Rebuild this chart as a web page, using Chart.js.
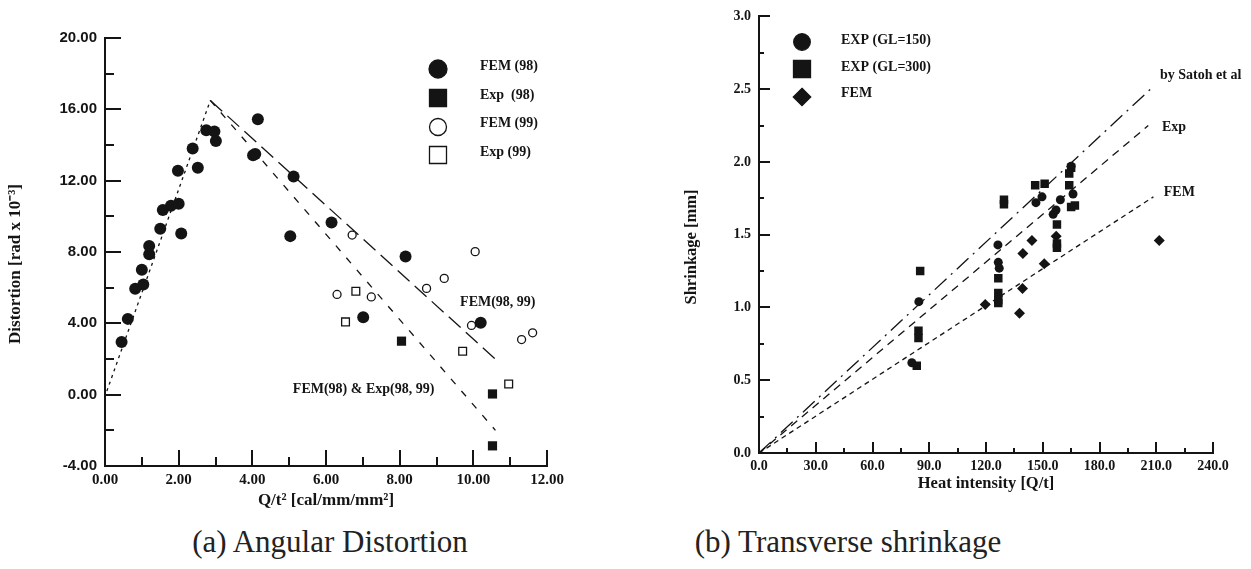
<!DOCTYPE html>
<html>
<head>
<meta charset="utf-8">
<script src="https://cdn.jsdelivr.net/npm/chart.js@4.4.1/dist/chart.umd.min.js"></script>
<style>
  html, body { margin: 0; padding: 0; background: #fff; }
  #wrap { position: relative; width: 1251px; height: 569px; overflow: hidden; }
  #c1 { position: absolute; left: 0; top: 0; }
  #c2 { position: absolute; left: 620px; top: 0; }
  .cap {
    position: absolute; top: 524px;
    font-family: "Liberation Serif", serif; font-size: 31px; color: #222;
    white-space: nowrap; transform: translateX(-50%);
  }
</style>
</head>
<body>
<div id="wrap">
  <canvas id="c1" width="620" height="520" style="width:620px;height:520px"></canvas>
  <canvas id="c2" width="631" height="520" style="width:631px;height:520px"></canvas>
  <div class="cap" style="left:330px">(a) Angular Distortion</div>
  <div class="cap" style="left:848px">(b) Transverse shrinkage</div>
</div>
<script>
// (a) angular distortion, [Q/t^2, distortion]
const fem98 = [
  [0.45, 2.95], [0.62, 4.25], [0.82, 5.94], [1.0, 7.0], [1.04, 6.18], [1.2, 7.87],
  [1.2, 8.33], [1.5, 9.3], [1.57, 10.35], [1.79, 10.6], [2.0, 10.7], [2.07, 9.04],
  [1.98, 12.55], [2.52, 12.73], [2.38, 13.8], [2.75, 14.83], [2.97, 14.76], [3.01, 14.23],
  [4.02, 13.42], [4.08, 13.5], [4.15, 15.45], [5.12, 12.23], [5.03, 8.89], [6.15, 9.65],
  [8.16, 7.75], [7.01, 4.34], [10.2, 4.03]
];
const exp98 = [[8.05, 3.0], [10.52, 0.04], [10.52, -2.87]];
const fem99 = [
  [6.71, 8.95], [6.30, 5.62], [7.23, 5.48], [8.73, 5.96], [9.21, 6.52],
  [10.05, 8.02], [9.95, 3.88], [11.31, 3.09], [11.61, 3.47]
];
const exp99 = [[6.53, 4.08], [6.81, 5.80], [9.71, 2.43], [10.96, 0.6]];
const riseLine = [[0.05, 0.2], [2.86, 16.5]];
const femFitA = [[2.86, 16.5], [10.7, 1.8]];
const expFitA = [[2.86, 16.5], [10.6, -2.0]];

// (b) transverse shrinkage, [Q/t, shrinkage]
const expGL150 = [
  [80.8, 0.62], [84.5, 1.04], [126.3, 1.43], [126.5, 1.31], [127, 1.27], [146.4, 1.72],
  [149.6, 1.76], [155.5, 1.64], [157, 1.67], [159.3, 1.74], [166, 1.78], [165, 1.97]
];
const expGL300 = [
  [83.4, 0.60], [84.3, 0.84], [84.3, 0.79], [85.2, 1.25], [126.5, 1.20], [126.5, 1.10],
  [126.5, 1.05], [126.5, 1.03], [129.5, 1.71], [129.5, 1.74], [146, 1.84], [151, 1.85],
  [157.5, 1.57], [157.5, 1.44], [157.5, 1.41], [164, 1.84], [164, 1.92], [165, 1.96],
  [165, 1.69], [167, 1.70]
];
const femB = [
  [119.6, 1.02], [137.7, 0.96], [139.3, 1.13], [139.5, 1.37], [144.3, 1.46],
  [150.8, 1.30], [157.1, 1.49], [211.6, 1.46]
];
const satohLine = [[0, 0], [208.6, 2.52]];
const expLineB = [[0, 0], [205.8, 2.25]];
const femLineB = [[0, 0], [208.5, 1.76]];

// axes
const aX = { min: 0, max: 12, step: 2, minor: 1 };
const aY = { min: -4, max: 20, step: 4, minor: 2 };
const bX = { min: 0, max: 240, step: 30, minor: 15 };
const bY = { min: 0, max: 3, step: 0.5, minor: 0.25 };

const INK = '#141414';
const SERIF = '"Liberation Serif", "Times New Roman", serif';
const pts = arr => arr.map(([x, y]) => ({ x, y }));

function range(lo, hi, step) {
  const out = [];
  for (let v = lo; v <= hi + 1e-9; v += step) out.push(+v.toFixed(6));
  return out;
}

function marker(ctx, style, filled, x, y, r) {
  ctx.beginPath();
  if (style === 'circle') ctx.arc(x, y, r, 0, Math.PI * 2);
  else if (style === 'rect') ctx.rect(x - r, y - r, 2 * r, 2 * r);
  else { ctx.moveTo(x, y - r); ctx.lineTo(x + r, y); ctx.lineTo(x, y + r); ctx.lineTo(x - r, y); ctx.closePath(); }
  ctx.fillStyle = filled ? INK : '#fff';
  ctx.fill();
  ctx.lineWidth = 1.3;
  ctx.strokeStyle = INK;
  ctx.stroke();
}

// inner tick marks, axis titles, legend and line labels
function deco(cfg) {
  return {
    id: 'deco',
    afterDraw(chart) {
      const ctx = chart.ctx;
      const a = chart.chartArea;
      const xs = chart.scales.x, ys = chart.scales.y;
      ctx.save();
      ctx.fillStyle = INK;
      range(cfg.y.min, cfg.y.max, cfg.y.minor).forEach(v => {
        if (v === cfg.y.min) return;
        const major = Math.abs(v / cfg.y.step - Math.round(v / cfg.y.step)) < 1e-6;
        const p = Math.round(ys.getPixelForValue(v));
        ctx.fillRect(a.left, p - 1, major ? cfg.majorLen : cfg.minorLen, 2);
      });
      range(cfg.x.min, cfg.x.max, cfg.x.minor).forEach(v => {
        if (v === cfg.x.min) return;
        const major = Math.abs(v / cfg.x.step - Math.round(v / cfg.x.step)) < 1e-6;
        const p = Math.round(xs.getPixelForValue(v));
        const len = major ? cfg.majorLen : cfg.minorLen;
        ctx.fillRect(p - 1, a.bottom - len, 2, len);
      });

      ctx.fillStyle = INK;
      ctx.textAlign = 'center';
      ctx.textBaseline = 'middle';
      ctx.font = 'bold ' + cfg.titleSize + 'px ' + SERIF;
      ctx.fillText(cfg.xTitle, (a.left + a.right) / 2, cfg.xTitleY);
      ctx.save();
      ctx.translate(cfg.yTitlePos[0], cfg.yTitlePos[1]);
      ctx.rotate(-Math.PI / 2);
      ctx.fillText(cfg.yTitle, 0, 0);
      ctx.restore();

      cfg.legend.forEach(l => {
        marker(ctx, l.style, l.filled, cfg.legendX, l.y, l.r);
        ctx.fillStyle = INK;
        ctx.textAlign = 'left';
        ctx.font = 'bold 14px ' + SERIF;
        ctx.fillText(l.text, cfg.legendTextX, l.ty);
      });

      ctx.textAlign = 'left';
      ctx.font = 'bold 14px ' + SERIF;
      cfg.notes.forEach(n => {
        ctx.fillText(n.text, xs.getPixelForValue(n.x), ys.getPixelForValue(n.y));
      });
      ctx.restore();
    }
  };
}

function axis(spec, font, fmt, fixed, isX) {
  return {
    type: 'linear',
    min: spec.min,
    max: spec.max,
    ticks: {
      stepSize: spec.step,
      autoSkip: false,
      maxRotation: 0,
      color: INK,
      font: font,
      padding: isX ? 5 : 8,
      callback: v => v.toFixed(fmt)
    },
    grid: { display: false, drawTicks: false },
    border: { display: true, color: INK, width: 2 },
    afterFit: s => { if (isX) s.height = fixed; else s.width = fixed; }
  };
}

function lineSet(data, dash) {
  return {
    data: pts(data), showLine: true, pointRadius: 0, borderColor: INK,
    borderWidth: 1.3, borderDash: dash, fill: false
  };
}

new Chart(document.getElementById('c1'), {
  type: 'scatter',
  data: {
    datasets: [
      { label: 'FEM (98)', data: pts(fem98), pointStyle: 'circle', pointRadius: 6, backgroundColor: INK, borderColor: INK, borderWidth: 0 },
      { label: 'Exp (98)', data: pts(exp98), pointStyle: 'rect', pointRadius: 6.5, backgroundColor: INK, borderColor: INK, borderWidth: 0 },
      { label: 'FEM (99)', data: pts(fem99), pointStyle: 'circle', pointRadius: 4, backgroundColor: '#fff', borderColor: INK, borderWidth: 1.3 },
      { label: 'Exp (99)', data: pts(exp99), pointStyle: 'rect', pointRadius: 5.5, backgroundColor: '#fff', borderColor: INK, borderWidth: 1.3 },
      lineSet(riseLine, [3, 4]),
      lineSet(femFitA, [16, 7]),
      lineSet(expFitA, [7, 9])
    ]
  },
  options: {
    responsive: false,
    devicePixelRatio: 1,
    animation: false,
    layout: { padding: { left: 0, top: 38, right: 73, bottom: 0 } },
    plugins: { legend: { display: false }, tooltip: { enabled: false } },
    scales: {
      x: axis(aX, { family: SERIF, size: 15, weight: 'bold' }, 2, 54, true),
      y: axis(aY, { family: '"Liberation Sans", Arial, sans-serif', size: 15, weight: 'bold' }, 2, 105, false)
    }
  },
  plugins: [deco({
    x: aX, y: aY, majorLen: 16, minorLen: 9, titleSize: 17,
    xTitle: 'Q/t² [cal/mm/mm²]', xTitleY: 501,
    yTitle: 'Distortion [rad x 10⁻³]', yTitlePos: [16, 264],
    legendX: 438, legendTextX: 480,
    legend: [
      { style: 'circle', filled: true, r: 9, y: 69, text: 'FEM (98)', ty: 66 },
      { style: 'rect', filled: true, r: 8.5, y: 98, text: 'Exp  (98)', ty: 95 },
      { style: 'circle', filled: false, r: 8.5, y: 127, text: 'FEM (99)', ty: 123 },
      { style: 'rect', filled: false, r: 8.5, y: 155, text: 'Exp (99)', ty: 152 }
    ],
    notes: [
      { text: 'FEM(98, 99)', x: 9.64, y: 5.16 },
      { text: 'FEM(98) & Exp(98, 99)', x: 5.1, y: 0.28 }
    ]
  })]
});

new Chart(document.getElementById('c2'), {
  type: 'scatter',
  data: {
    datasets: [
      { label: 'EXP (GL=150)', data: pts(expGL150), pointStyle: 'circle', pointRadius: 4.5, backgroundColor: INK, borderColor: INK, borderWidth: 0 },
      { label: 'EXP (GL=300)', data: pts(expGL300), pointStyle: 'rect', pointRadius: 6, backgroundColor: INK, borderColor: INK, borderWidth: 0 },
      { label: 'FEM', data: pts(femB), pointStyle: 'rectRot', pointRadius: 5.5, backgroundColor: INK, borderColor: INK, borderWidth: 0 },
      lineSet(satohLine, [16, 6, 2, 6]),
      lineSet(expLineB, [8, 6]),
      lineSet(femLineB, [5, 4])
    ]
  },
  options: {
    responsive: false,
    devicePixelRatio: 1,
    animation: false,
    layout: { padding: { left: 0, top: 15, right: 38, bottom: 0 } },
    plugins: { legend: { display: false }, tooltip: { enabled: false } },
    scales: {
      x: axis(bX, { family: SERIF, size: 14, weight: 'bold' }, 1, 67, true),
      y: axis(bY, { family: SERIF, size: 14, weight: 'bold' }, 1, 139, false)
    }
  },
  plugins: [deco({
    x: bX, y: bY, majorLen: 11, minorLen: 5, titleSize: 16.5,
    xTitle: 'Heat intensity [Q/t]', xTitleY: 484,
    yTitle: 'Shrinkage [mm]', yTitlePos: [72, 247],
    legendX: 182, legendTextX: 221,
    legend: [
      { style: 'circle', filled: true, r: 8.3, y: 42, text: 'EXP (GL=150)', ty: 40 },
      { style: 'rect', filled: true, r: 8.5, y: 69, text: 'EXP (GL=300)', ty: 67 },
      { style: 'diamond', filled: true, r: 8.7, y: 97, text: 'FEM', ty: 93 }
    ],
    notes: [
      { text: 'by Satoh et al', x: 212, y: 2.596 },
      { text: 'Exp', x: 213, y: 2.24 },
      { text: 'FEM', x: 214, y: 1.79 }
    ]
  })]
});
</script>
</body>
</html>
